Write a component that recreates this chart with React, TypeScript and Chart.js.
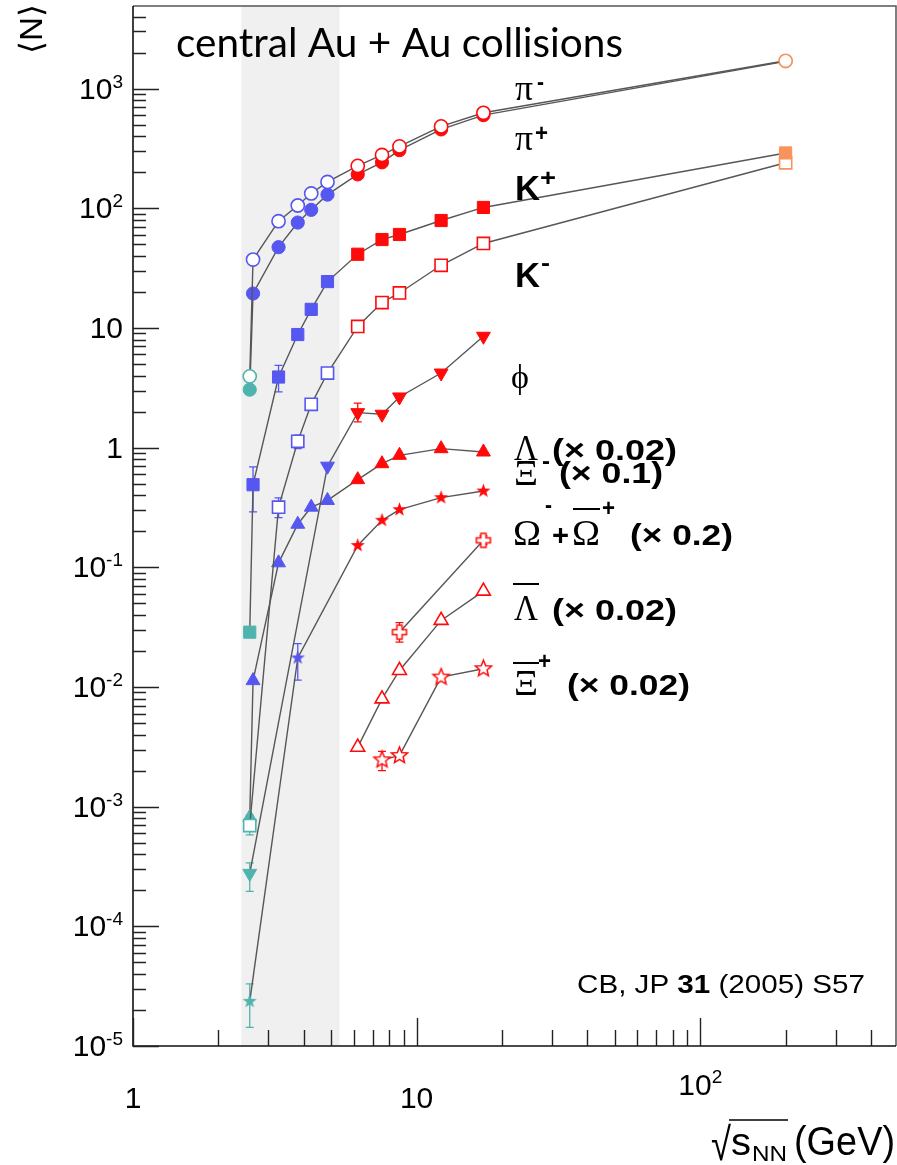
import React, { useEffect, useRef } from "react";
import { Chart, registerables } from "chart.js";

Chart.register(...registerables);

// ---------- axis ranges & shaded band ----------
const X_RANGE = [1, 490];
const Y_RANGE = [1e-5, 4900];
const BAND = [2.41, 5.35];

// ---------- data (sqrt(s_NN) in GeV, yields) ----------
const piMinusX = [2.58, 2.65, 3.26, 3.81, 4.25, 4.85, 6.2, 7.55, 8.7, 12.2, 17.2, 200];
const piMinusY = [3.94, 37.3, 78, 105.5, 133, 166, 226, 279, 329, 483, 628, 1708];

const piPlusX = [2.58, 2.65, 3.26, 3.81, 4.25, 4.85, 6.2, 7.55, 8.7, 12.2, 17.2, 200];
const piPlusY = [3.05, 19.4, 47.3, 76, 97, 130, 192, 242, 306, 456, 600, 1690];

const kPlusX = [2.58, 2.65, 3.26, 3.81, 4.25, 4.85, 6.2, 7.55, 8.7, 12.2, 17.2, 200];
const kPlusY = [0.0287, 0.49, 3.89, 8.81, 14.3, 24.4, 41.3, 54.8, 60.4, 79, 101.6, 290];
const kPlusErr = [null, [0.29, 0.69], [2.92, 4.87], [8.0, 9.8], null, null, null, null, null, null, null, null];

const kMinusX = [2.58, 3.26, 3.81, 4.25, 4.85, 6.2, 7.55, 8.7, 12.2, 17.2, 200];
const kMinusY = [6.95e-4, 0.318, 1.13, 2.3, 4.2, 10.3, 16.3, 19.6, 33.4, 50.8, 240];
const kMinusErr = [[5.8e-4, 8.5e-4], [0.26, 0.38], [0.98, 1.27], [2.1, 2.5], null, null, null, null, null, null, null];

const phiX = [2.58, 4.85, 6.2, 7.55, 8.7, 12.2, 17.2];
const phiY = [2.77e-4, 0.7, 1.96, 1.9, 2.65, 4.2, 8.52];
const phiErr = [[1.96e-4, 3.39e-4], null, [1.64, 2.35], null, null, null, null];

const lambdaX = [2.58, 2.65, 3.26, 3.81, 4.25, 4.85, 6.2, 7.55, 8.7, 12.2, 17.2];
const lambdaY = [8.15e-4, 0.0113, 0.109, 0.229, 0.318, 0.362, 0.54, 0.734, 0.862, 0.98, 0.919];

const xiX = [2.58, 3.81, 6.2, 7.55, 8.7, 12.2, 17.2];
const xiY = [2.36e-5, 0.0175, 0.152, 0.247, 0.303, 0.382, 0.434];
const xiErr = [[1.43e-5, 3.3e-5], [0.0114, 0.023], null, null, null, null, null];

const omegaX = [8.7, 17.2];
const omegaY = [0.0287, 0.168];
const omegaErr = [[0.0237, 0.0345], [0.155, 0.183]];

const antiLambdaX = [6.2, 7.55, 8.7, 12.2, 17.2];
const antiLambdaY = [3.14e-3, 7.96e-3, 0.01374, 0.036, 0.0632];

const antiXiX = [7.55, 8.7, 12.2, 17.2];
const antiXiY = [2.46e-3, 2.67e-3, 0.0121, 0.0142];
const antiXiErr = [[2.0e-3, 2.9e-3], null, null, null];

// ---------- tick labels ----------
const yTickValues = [1e-5, 1e-4, 1e-3, 1e-2, 1e-1, 1, 10, 100, 1000];
const yTickBase = ["10", "10", "10", "10", "10", "1", "10", "10", "10"];
const yTickExp = ["-5", "-4", "-3", "-2", "-1", "", "", "2", "3"];
const xTickValues = [1, 10, 100];
const xTickBase = ["1", "10", "10"];
const xTickExp = ["", "", "2"];

// ---------- styles ----------
const TEAL = "#4fb4ae";
const BLUE = "#5656f0";
const RED = "#ff0a0a";
const ORANGE = "#f8935c";
const LINE_COLOR = "#575757";
const SANS = '"Liberation Sans", Arial, Helvetica, sans-serif';
const SERIF = '"Liberation Serif", "Times New Roman", serif';

function colorFor(x: number) {
  if (x < 2.62) return TEAL;
  if (x < 5.5) return BLUE;
  if (x < 50) return RED;
  return ORANGE;
}

function makeStar(color: string, filled: boolean, R: number, r: number) {
  const c = document.createElement("canvas");
  const s = Math.ceil(2 * R + 4);
  c.width = s;
  c.height = s;
  const g = c.getContext("2d")!;
  g.translate(s / 2, s / 2);
  g.beginPath();
  for (let i = 0; i < 10; i++) {
    const a = -Math.PI / 2 + (i * Math.PI) / 5;
    const rr = i % 2 === 0 ? R : r;
    const px = Math.cos(a) * rr;
    const py = Math.sin(a) * rr;
    if (i === 0) g.moveTo(px, py);
    else g.lineTo(px, py);
  }
  g.closePath();
  if (filled) {
    g.fillStyle = color;
    g.fill();
  } else {
    g.fillStyle = "#ffffff";
    g.fill();
    g.strokeStyle = color;
    g.lineWidth = 1.5;
    g.stroke();
  }
  return c;
}

function makeCross(color: string) {
  const c = document.createElement("canvas");
  const s = 18;
  c.width = s;
  c.height = s;
  const g = c.getContext("2d")!;
  g.translate(s / 2, s / 2);
  const a = 7, t = 2.6;
  g.beginPath();
  g.moveTo(-t, -a);
  g.lineTo(t, -a);
  g.lineTo(t, -t);
  g.lineTo(a, -t);
  g.lineTo(a, t);
  g.lineTo(t, t);
  g.lineTo(t, a);
  g.lineTo(-t, a);
  g.lineTo(-t, t);
  g.lineTo(-a, t);
  g.lineTo(-a, -t);
  g.lineTo(-t, -t);
  g.closePath();
  g.fillStyle = "#ffffff";
  g.fill();
  g.strokeStyle = color;
  g.lineWidth = 1.5;
  g.stroke();
  return c;
}

function buildDataset(label: string, xs: number[], ys: number[], marker: string, filled: boolean) {
  const colors = xs.map(colorFor);
  const d: any = {
    label,
    data: xs.map((x, i) => ({ x, y: ys[i] })),
    showLine: true,
    borderColor: LINE_COLOR,
    borderWidth: 1.4,
    tension: 0,
    pointBorderColor: colors,
    pointBackgroundColor: filled ? colors : "#ffffff",
    pointBorderWidth: filled ? 1 : 1.6,
    pointRadius: 7,
    pointHoverRadius: 7,
  };
  if (marker === "circle") {
    d.pointStyle = "circle";
    d.pointRadius = 6.6;
  } else if (marker === "rect") {
    d.pointStyle = "rect";
    d.pointRadius = 8.6;
  } else if (marker === "triangle") {
    d.pointStyle = "triangle";
    d.pointRadius = 8;
  } else if (marker === "triangleDown") {
    d.pointStyle = "triangle";
    d.pointRadius = 8;
    d.pointRotation = 180;
  } else if (marker === "star") {
    d.pointStyle = filled
      ? colors.map((c) => makeStar(c, true, 7.5, 3))
      : colors.map((c) => makeStar(c, false, 8.5, 3.8));
  } else if (marker === "cross") {
    d.pointStyle = colors.map((c) => makeCross(c));
  }
  return d;
}

type Txt = { align?: "left" | "right" | "center"; w?: number; color?: string };
function drawText(ctx: CanvasRenderingContext2D, s: string, x: number, y: number, font: string, o: Txt = {}) {
  ctx.font = font;
  ctx.textAlign = "left";
  ctx.textBaseline = "alphabetic";
  const w = ctx.measureText(s).width;
  const sx = o.w ? o.w / w : 1;
  const tw = w * sx;
  const x0 = o.align === "right" ? x - tw : o.align === "center" ? x - tw / 2 : x;
  ctx.save();
  ctx.translate(x0, y);
  ctx.scale(sx, 1);
  ctx.fillStyle = o.color || "#000";
  ctx.fillText(s, 0, 0);
  ctx.restore();
  return tw;
}

function hline(ctx: CanvasRenderingContext2D, x0: number, x1: number, y: number, lw = 1.6) {
  ctx.save();
  ctx.strokeStyle = "#000";
  ctx.lineWidth = lw;
  ctx.beginPath();
  ctx.moveTo(x0, y);
  ctx.lineTo(x1, y);
  ctx.stroke();
  ctx.restore();
}

const errorSets: [number[], number[], any[]][] = [
  [kPlusX, kPlusY, kPlusErr],
  [kMinusX, kMinusY, kMinusErr],
  [phiX, phiY, phiErr],
  [xiX, xiY, xiErr],
  [omegaX, omegaY, omegaErr],
  [antiXiX, antiXiY, antiXiErr],
];

const decor = {
  id: "decor",
  beforeDatasetsDraw(chart: any) {
    const { ctx, chartArea: a } = chart;
    const xs = chart.scales.x;
    const ys = chart.scales.y;
    ctx.save();
    const b0 = xs.getPixelForValue(BAND[0]);
    const b1 = xs.getPixelForValue(BAND[1]);
    ctx.fillStyle = "#f0f0f0";
    ctx.fillRect(b0, a.top, b1 - b0, a.bottom - a.top);
    // error bars
    for (const [sx, , se] of errorSets) {
      se.forEach((e: any, i: number) => {
        if (!e) return;
        const px = xs.getPixelForValue(sx[i]);
        const t = ys.getPixelForValue(e[1]);
        const bt = ys.getPixelForValue(e[0]);
        ctx.strokeStyle = colorFor(sx[i]);
        ctx.lineWidth = 1.3;
        ctx.beginPath();
        ctx.moveTo(px, t);
        ctx.lineTo(px, bt);
        ctx.moveTo(px - 4, t);
        ctx.lineTo(px + 4, t);
        ctx.moveTo(px - 4, bt);
        ctx.lineTo(px + 4, bt);
        ctx.stroke();
      });
    }
    ctx.restore();
  },
  afterDatasetsDraw(chart: any) {
    const { ctx, chartArea: a } = chart;
    const xs = chart.scales.x;
    const ys = chart.scales.y;
    ctx.save();
    // frame
    ctx.strokeStyle = "#555";
    ctx.lineWidth = 1.5;
    ctx.beginPath();
    ctx.moveTo(a.left, a.top);
    ctx.lineTo(a.right, a.top);
    ctx.lineTo(a.right, a.bottom);
    ctx.stroke();
    ctx.strokeStyle = "#111";
    ctx.lineWidth = 1.6;
    ctx.beginPath();
    ctx.moveTo(a.left, a.top);
    ctx.lineTo(a.left, a.bottom);
    ctx.lineTo(a.right, a.bottom);
    ctx.stroke();

    // y ticks
    ctx.lineWidth = 1.4;
    ctx.strokeStyle = "#222";
    ctx.beginPath();
    for (let e = -5; e <= 3; e++) {
      for (let k = 1; k <= 9; k++) {
        const v = k * Math.pow(10, e);
        if (v > Y_RANGE[1]) break;
        const py = Math.round(ys.getPixelForValue(v)) + 0.5;
        const len = k === 1 ? 26 : 13;
        ctx.moveTo(a.left, py);
        ctx.lineTo(a.left + len, py);
      }
    }
    // x ticks
    for (let e = 0; e <= 2; e++) {
      for (let k = 1; k <= 9; k++) {
        const v = k * Math.pow(10, e);
        if (v > X_RANGE[1]) break;
        const px = Math.round(xs.getPixelForValue(v)) + 0.5;
        const len = k === 1 ? 28 : 16;
        ctx.moveTo(px, a.bottom);
        ctx.lineTo(px, a.bottom - len);
      }
    }
    ctx.stroke();

    // y tick labels
    yTickValues.forEach((v, i) => {
      const py = ys.getPixelForValue(v);
      const exp = yTickExp[i];
      let right = 123;
      if (exp) {
        ctx.font = `19px ${SANS}`;
        const ew = ctx.measureText(exp).width;
        drawText(ctx, exp, right - ew, py - 1, `19px ${SANS}`);
        right -= ew;
      }
      drawText(ctx, yTickBase[i], right, py + 10, `30px ${SANS}`, { align: "right" });
    });

    // x tick labels
    xTickValues.forEach((v, i) => {
      const px = xs.getPixelForValue(v);
      const exp = xTickExp[i];
      if (exp) {
        ctx.font = `30px ${SANS}`;
        const bw = ctx.measureText(xTickBase[i]).width;
        ctx.font = `19px ${SANS}`;
        const ew = ctx.measureText(exp).width;
        const x0 = px - (bw + ew) / 2;
        drawText(ctx, xTickBase[i], x0, 1095, `30px ${SANS}`);
        drawText(ctx, exp, x0 + bw, 1083, `19px ${SANS}`);
      } else {
        drawText(ctx, xTickBase[i], px, 1108, `30px ${SANS}`, { align: "center" });
      }
    });

    // axis titles
    ctx.save();
    ctx.translate(42, 29);
    ctx.rotate(-Math.PI / 2);
    drawText(ctx, "⟨N⟩", 0, 0, `32px ${SANS}`, { align: "center", w: 49 });
    ctx.restore();

    drawText(ctx, "√", 711, 1160, `46px ${SANS}`, { w: 20 });
    hline(ctx, 729, 788, 1120, 1.4);
    drawText(ctx, "s", 731, 1155, `38px ${SANS}`, { w: 20 });
    drawText(ctx, "NN", 752, 1161, `22px ${SANS}`, { w: 35 });
    drawText(ctx, "(GeV)", 794, 1155, `40px ${SANS}`, { w: 101 });

    // title
    drawText(ctx, "central Au + Au collisions", 176, 57, `40px Lato, "Open Sans", sans-serif`, { w: 447 });

    // citation
    {
      const f = `25px ${SANS}`;
      const fb = `bold 25px ${SANS}`;
      ctx.font = f;
      const w1 = ctx.measureText("CB, JP ").width;
      const w3 = ctx.measureText(" (2005) S57").width;
      ctx.font = fb;
      const w2 = ctx.measureText("31").width;
      const sc = 288 / (w1 + w2 + w3);
      let x = 577;
      x += drawText(ctx, "CB, JP ", x, 993, f, { w: w1 * sc });
      x += drawText(ctx, "31", x, 993, fb, { w: w2 * sc });
      drawText(ctx, " (2005) S57", x, 993, f, { w: w3 * sc });
    }

    // species labels
    const GR = `36px ${SERIF}`;
    const BD = `bold 30px ${SANS}`;
    const SUP = `bold 24px ${SANS}`;
    drawText(ctx, "π", 515, 100, GR, { w: 18 });
    drawText(ctx, "-", 537, 90, SUP, { w: 7 });
    drawText(ctx, "π", 515, 150, GR, { w: 18 });
    drawText(ctx, "+", 535, 141, SUP, { w: 13 });
    drawText(ctx, "K", 515, 200, `bold 35px ${SANS}`, { w: 25 });
    drawText(ctx, "+", 540, 186, SUP, { w: 16 });
    drawText(ctx, "K", 515, 287, `bold 35px ${SANS}`, { w: 25 });
    drawText(ctx, "-", 541, 271, SUP, { w: 9 });
    drawText(ctx, "ϕ", 511, 388, `34px ${SERIF}`);

    drawText(ctx, "Λ", 514, 460, GR, { w: 24 });
    drawText(ctx, "(× 0.02)", 552, 460, BD, { w: 125 });

    drawText(ctx, "Ξ", 514, 485, GR, { w: 24 });
    drawText(ctx, "-", 542, 469, SUP, { w: 8 });
    drawText(ctx, "(× 0.1)", 559, 483, BD, { w: 104 });

    drawText(ctx, "Ω", 513, 545, GR, { w: 28 });
    drawText(ctx, "-", 545, 513, SUP, { w: 7 });
    drawText(ctx, "+", 552, 545, `bold 30px ${SANS}`, { w: 17 });
    drawText(ctx, "Ω", 572, 545, GR, { w: 28 });
    hline(ctx, 573, 600, 509, 2);
    drawText(ctx, "+", 602, 516, SUP, { w: 13 });
    drawText(ctx, "(× 0.2)", 630, 545, BD, { w: 103 });

    drawText(ctx, "Λ", 514, 620, GR, { w: 24 });
    hline(ctx, 513, 539, 584, 2);
    drawText(ctx, "(× 0.02)", 552, 620, BD, { w: 125 });

    drawText(ctx, "Ξ", 514, 695, GR, { w: 24 });
    hline(ctx, 513, 539, 663, 2);
    drawText(ctx, "+", 538, 669, SUP, { w: 13 });
    drawText(ctx, "(× 0.02)", 567, 695, BD, { w: 123 });

    ctx.restore();
  },
};

export default function App() {
  const ref = useRef<HTMLCanvasElement>(null);
  useEffect(() => {
    if (!ref.current) return;
    const datasets = [
      buildDataset("π-", piMinusX, piMinusY, "circle", false),
      buildDataset("π+", piPlusX, piPlusY, "circle", true),
      buildDataset("K+", kPlusX, kPlusY, "rect", true),
      buildDataset("K-", kMinusX, kMinusY, "rect", false),
      buildDataset("φ", phiX, phiY, "triangleDown", true),
      buildDataset("Λ", lambdaX, lambdaY, "triangle", true),
      buildDataset("Ξ-", xiX, xiY, "star", true),
      buildDataset("Ω", omegaX, omegaY, "cross", false),
      buildDataset("anti-Λ", antiLambdaX, antiLambdaY, "triangle", false),
      buildDataset("anti-Ξ+", antiXiX, antiXiY, "star", false),
    ];
    const chart = new Chart(ref.current, {
      type: "scatter",
      data: { datasets },
      options: {
        animation: false,
        responsive: false,
        maintainAspectRatio: false,
        layout: { autoPadding: false, padding: { left: 133, right: 1, top: 6, bottom: 119 } },
        scales: {
          x: { type: "logarithmic", min: X_RANGE[0], max: X_RANGE[1], display: false },
          y: { type: "logarithmic", min: Y_RANGE[0], max: Y_RANGE[1], display: false },
        },
        plugins: { legend: { display: false }, tooltip: { enabled: false } },
        events: [],
      },
      plugins: [decor],
    } as any);
    return () => chart.destroy();
  }, []);
  return (
    <div style={{ position: "absolute", left: 0, top: 0, width: 897, height: 1165, background: "#fff" }}>
      <canvas ref={ref} width={897} height={1165} style={{ display: "block", width: 897, height: 1165 }} />
    </div>
  );
}
